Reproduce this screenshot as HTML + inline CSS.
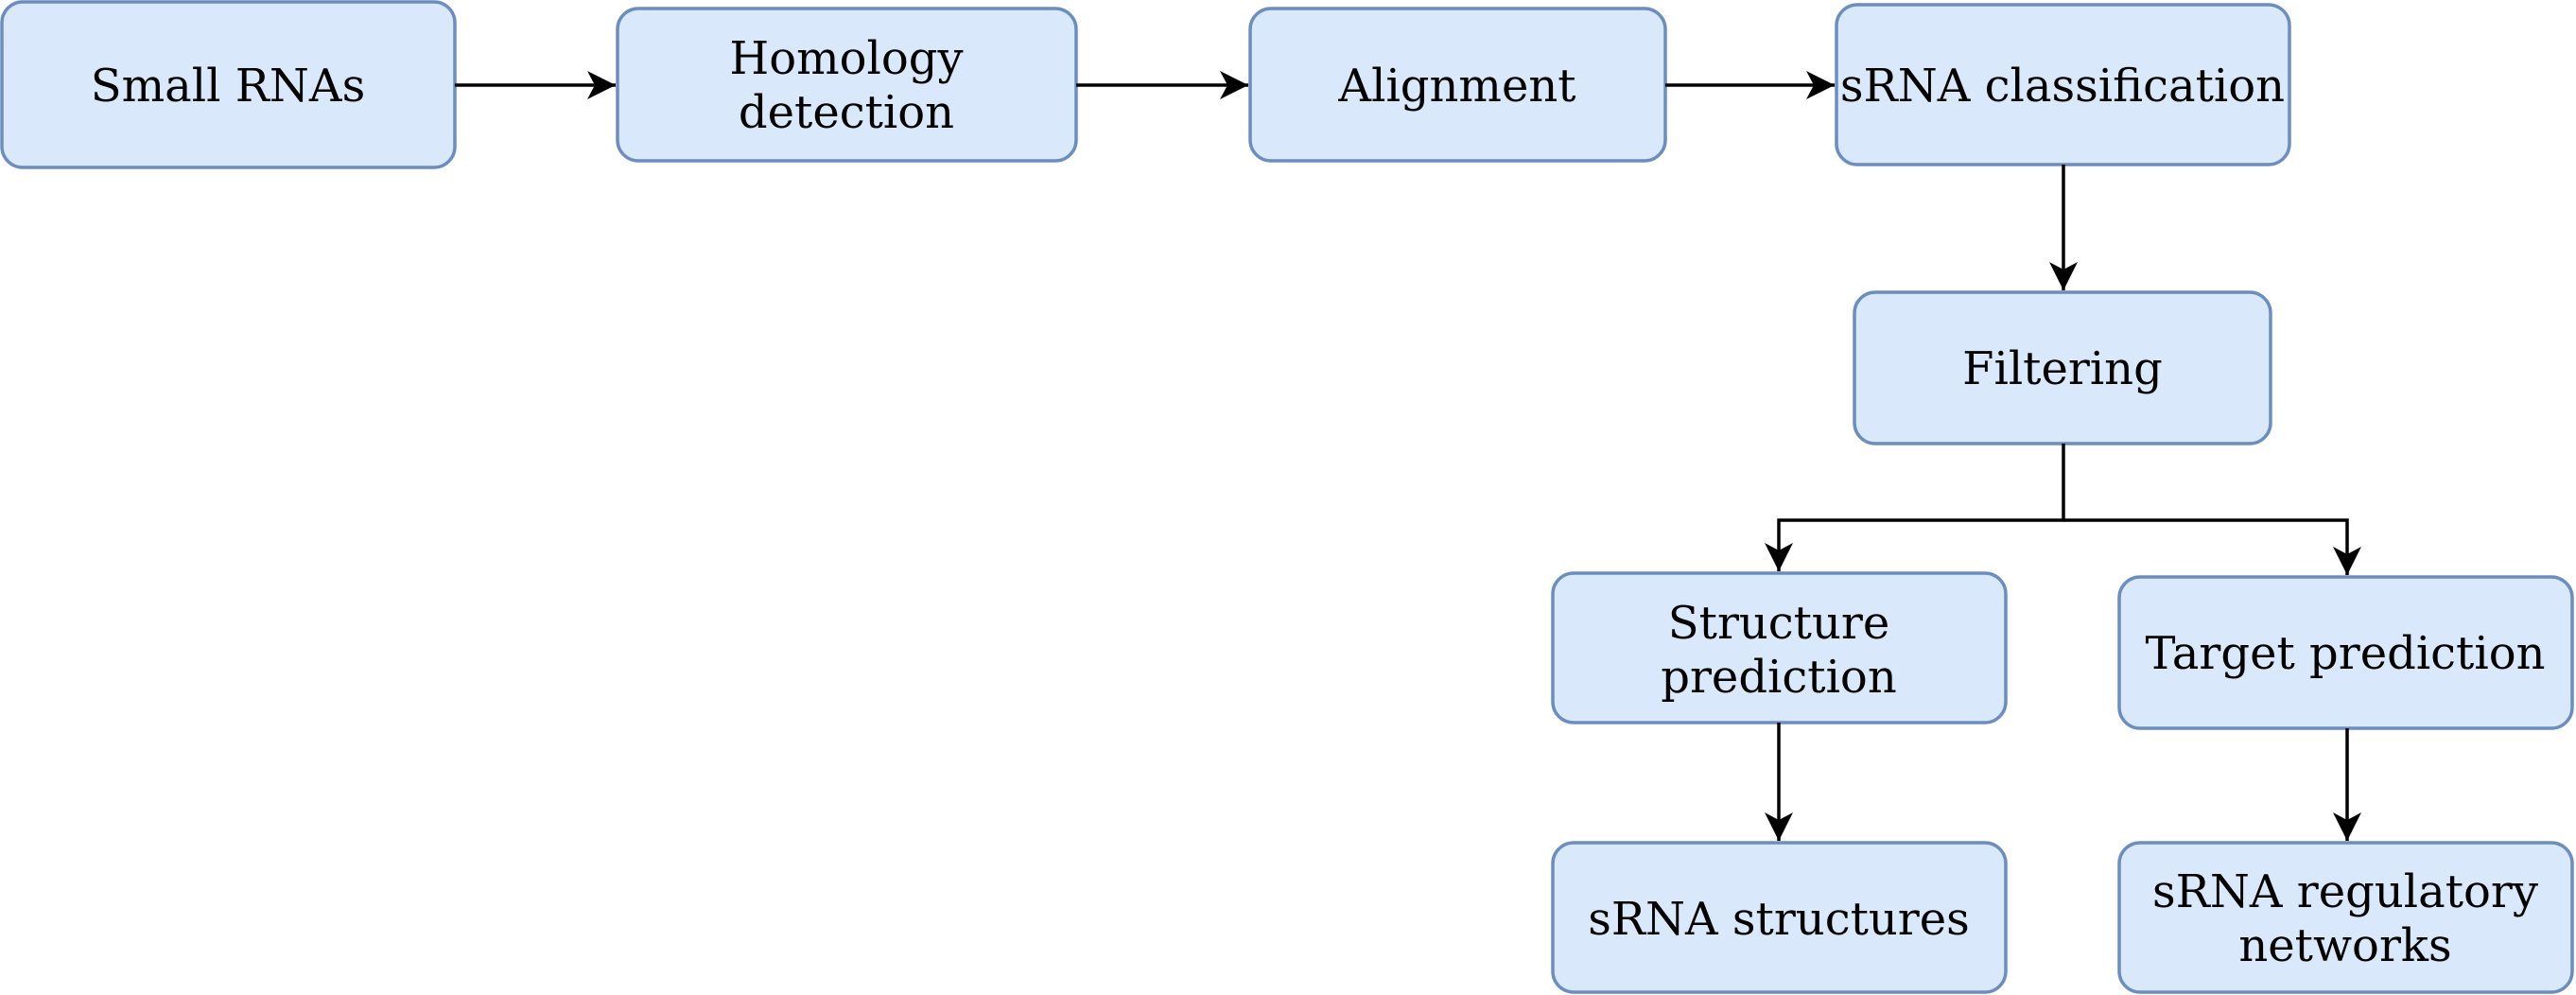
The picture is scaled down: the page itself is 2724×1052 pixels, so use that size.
<!DOCTYPE html>
<html><head><meta charset="utf-8"><style>
html,body{margin:0;padding:0;background:#fff;width:2724px;height:1052px;overflow:hidden}
text{font-family:"DejaVu Serif","Liberation Serif",serif;font-size:48px;fill:#000;text-anchor:middle}
</style></head><body>
<svg width="2724" height="1052" viewBox="0 0 2724 1052" xmlns="http://www.w3.org/2000/svg">
<defs><marker id="a" markerWidth="34" markerHeight="34" refX="30" refY="15" orient="auto" markerUnits="userSpaceOnUse"><path d="M0,0 L30,15 L0,30 L8,15 Z" fill="#000"/></marker></defs>
<g fill="#dae8fc" stroke="#6c8ebf" stroke-width="3.5">
<rect x="2" y="2" width="479" height="175" rx="22"/>
<rect x="653" y="9" width="485" height="161" rx="22"/>
<rect x="1322" y="9" width="439" height="161" rx="22"/>
<rect x="1942" y="5" width="479" height="169" rx="22"/>
<rect x="1961" y="309" width="440" height="160" rx="22"/>
<rect x="1642" y="606" width="479" height="158" rx="22"/>
<rect x="2241" y="610" width="479" height="160" rx="22"/>
<rect x="1642" y="891" width="479" height="158" rx="22"/>
<rect x="2241" y="891" width="479" height="158" rx="22"/>
</g>
<g stroke="#000" stroke-width="3.5" fill="none">
<line x1="481" y1="90" x2="651" y2="90" marker-end="url(#a)"/>
<line x1="1138" y1="90" x2="1320" y2="90" marker-end="url(#a)"/>
<line x1="1761" y1="90" x2="1940" y2="90" marker-end="url(#a)"/>
<line x1="2182" y1="174" x2="2182" y2="307" marker-end="url(#a)"/>
<polyline points="2182,469 2182,550 1881,550 1881,604" marker-end="url(#a)"/>
<polyline points="2182,550 2482,550 2482,608" marker-end="url(#a)"/>
<line x1="1881" y1="764" x2="1881" y2="889" marker-end="url(#a)"/>
<line x1="2482" y1="770" x2="2482" y2="889" marker-end="url(#a)"/>
</g>
<text x="241" y="107">Small RNAs</text>
<text x="895" y="78">Homology</text>
<text x="895" y="135">detection</text>
<text x="1541" y="107">Alignment</text>
<text x="2181" y="107">sRNA classification</text>
<text x="2181" y="406">Filtering</text>
<text x="1881" y="675">Structure</text>
<text x="1881" y="732">prediction</text>
<text x="2480" y="707">Target prediction</text>
<text x="1881" y="988">sRNA structures</text>
<text x="2480" y="959">sRNA regulatory</text>
<text x="2480" y="1016">networks</text>
</svg>
</body></html>
